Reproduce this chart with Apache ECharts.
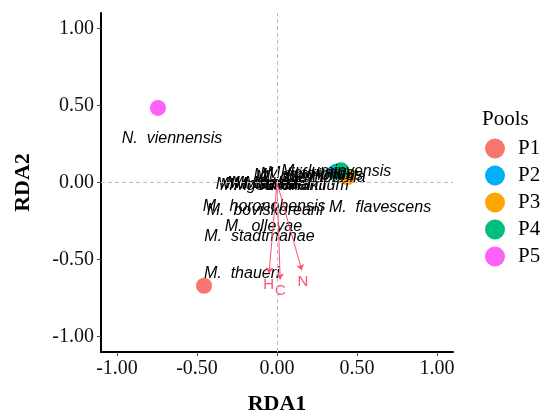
<!DOCTYPE html>
<html><head><meta charset="utf-8">
<script src="https://cdn.jsdelivr.net/npm/echarts@6/dist/echarts.min.js"></script>
<style>html,body{margin:0;padding:0;background:#fff}#c{width:540px;height:414px}</style>
</head><body><div id="c"></div>
<script>
// ---- data ----
const tickValues = [-1, -0.5, 0, 0.5, 1];
const pools = ['P1', 'P2', 'P3', 'P4', 'P5'];
const poolX = [-0.456, 0.37, 0.44, 0.40, -0.744];
const poolY = [-0.67, 0.07, 0.035, 0.08, 0.484];

const species = [
  'N.  viennensis', 'M.  flavescens', 'M.  horonobensis', 'M.  boviskoreani',
  'M.  olleyae', 'M.  stadtmanae', 'M.  thaueri',
  'M.  millerae', 'M.  gottschalkii', 'M.  smithii', 'M.  ruminantium',
  'M.  wolinii', 'M.  woesei', 'M.  oralis',
  'M.  luminyensis', 'M.  thermophila', 'M.  arboriphilus', 'M.  curvatus', 'M.  filiformis'
];
const speciesX = [
  -0.656, 0.644, -0.08, -0.075,
  -0.085, -0.11, -0.22,
  -0.125, -0.025, -0.09, 0.09,
  -0.07, -0.03, 0.0,
  0.37, 0.21, 0.195, 0.21, 0.16
];
const speciesY = [
  0.284, -0.161, -0.155, -0.18,
  -0.284, -0.35, -0.59,
  -0.013, -0.02, -0.005, -0.02,
  -0.01, -0.015, -0.005,
  0.068, 0.03, 0.045, 0.058, 0.05
];

const envVars = ['H', 'C', 'N'];
const envX = [-0.05, 0.02, 0.155];
const envY = [-0.59, -0.63, -0.57];

// ---- style ----
const poolColors = ['#F8766D', '#00B0F6', '#FFA500', '#00BF7D', '#FD61F7'];
const serif = '"Liberation Serif", "DejaVu Serif", serif';
const sans = '"Liberation Sans", Arial, sans-serif';
const arrowColor = '#ff4f6e';

const chart = echarts.init(document.getElementById('c'), null, { renderer: 'canvas' });

const poolSeries = pools.map((p, i) => ({
  name: p,
  type: 'scatter',
  symbol: 'circle',
  symbolSize: 16,
  z: 2,
  itemStyle: { color: poolColors[i], opacity: 1 },
  data: [[poolX[i], poolY[i]]],
  silent: true
}));

const axisCommon = {
  type: 'value',
  min: -1.1,
  max: 1.1,
  splitLine: { show: false },
  axisLine: { show: true, onZero: false, lineStyle: { color: '#000', width: 2 } },
  axisTick: { show: true, length: 4, customValues: tickValues, lineStyle: { color: '#444', width: 1 } },
  axisLabel: {
    customValues: tickValues,
    formatter: v => v.toFixed(2),
    fontFamily: serif, fontSize: 20, color: '#111', margin: 7
  },
  nameLocation: 'middle',
  nameTextStyle: { fontFamily: serif, fontSize: 22, fontWeight: 'bold', color: '#000' }
};

const option = {
  animation: false,
  backgroundColor: '#fff',
  grid: { left: 101, right: 87, top: 13, bottom: 62, containLabel: false, outerBoundsMode: 'none' },
  xAxis: Object.assign({}, axisCommon, { name: 'RDA1', nameGap: 41 }),
  yAxis: Object.assign({}, axisCommon, { name: 'RDA2', nameGap: 67, nameRotate: 90 }),
  title: {
    text: 'Pools', left: 477, top: 104,
    textStyle: { fontFamily: serif, fontSize: 21, fontWeight: 'normal', color: '#000' }
  },
  legend: {
    data: pools,
    orient: 'vertical',
    left: 480, top: 133,
    icon: 'circle',
    itemWidth: 20, itemHeight: 20, itemGap: 6,
    textStyle: { fontFamily: serif, fontSize: 21, color: '#000', padding: [0, 0, 0, 8] }
  },
  series: poolSeries.concat([
    {
      name: 'zero',
      type: 'scatter',
      data: [],
      silent: true,
      markLine: {
        silent: true,
        symbol: ['none', 'none'],
        label: { show: false },
        lineStyle: { type: [4, 3], color: '#bdbdbd', width: 1 },
        data: [{ xAxis: 0 }, { yAxis: 0 }]
      }
    },
    {
      name: 'species',
      type: 'scatter',
      symbolSize: 0,
      z: 3,
      silent: true,
      itemStyle: { opacity: 1, color: '#000' },
      data: species.map((s, i) => ({ name: s, value: [speciesX[i], speciesY[i]] })),
      label: {
        show: true,
        position: [0, 0],
        align: 'center',
        verticalAlign: 'middle',
        formatter: p => p.name,
        fontFamily: sans, fontStyle: 'italic', fontSize: 16, color: '#000', opacity: 1
      }
    },
    {
      name: 'env',
      type: 'lines',
      coordinateSystem: 'cartesian2d',
      z: 4,
      silent: true,
      symbol: ['none', 'arrow'],
      symbolSize: 6,
      lineStyle: { color: arrowColor, width: 1, opacity: 1 },
      label: {
        show: true, position: 'end', distance: 4,
        formatter: p => p.name,
        fontFamily: sans, fontSize: 15, color: arrowColor
      },
      data: envVars.map((v, i) => ({ name: v, coords: [[0, 0], [envX[i], envY[i]]] }))
    }
  ])
};

chart.setOption(option);
</script>
</body></html>
